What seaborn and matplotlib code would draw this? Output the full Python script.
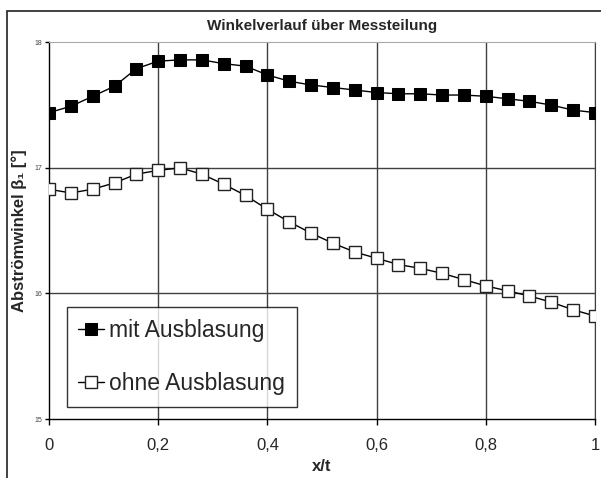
import numpy as np
import pandas as pd
import matplotlib
matplotlib.use("Agg")
import matplotlib.pyplot as plt
import matplotlib.patches as patches
import seaborn as sns

# x/t positions (26 measurement points)
x_t = [0.00, 0.04, 0.08, 0.12, 0.16, 0.20, 0.24, 0.28, 0.32, 0.36, 0.40, 0.44, 0.48,
       0.52, 0.56, 0.60, 0.64, 0.68, 0.72, 0.76, 0.80, 0.84, 0.88, 0.92, 0.96, 1.00]

mit_ausblasung = [17.44, 17.49, 17.57, 17.65, 17.79, 17.85, 17.86, 17.86, 17.83, 17.81,
                  17.74, 17.69, 17.66, 17.64, 17.62, 17.60, 17.59, 17.59, 17.58, 17.58,
                  17.57, 17.55, 17.53, 17.50, 17.46, 17.44]

ohne_ausblasung = [16.83, 16.80, 16.83, 16.88, 16.95, 16.98, 17.00, 16.95, 16.87, 16.78,
                   16.67, 16.57, 16.48, 16.40, 16.33, 16.28, 16.23, 16.20, 16.16, 16.11,
                   16.06, 16.02, 15.98, 15.93, 15.87, 15.82]

x_ticks = [0, 0.2, 0.4, 0.6, 0.8, 1.0]
x_tick_labels = ["0", "0,2", "0,4", "0,6", "0,8", "1"]
y_ticks = [15, 16, 17, 18]

df = pd.DataFrame({"x": x_t, "mit": mit_ausblasung, "ohne": ohne_ausblasung})

sns.set_style("white")
plt.rcParams["font.family"] = ["Liberation Sans", "DejaVu Sans"]

fig = plt.figure(figsize=(6.01, 4.78), dpi=100)
ax = fig.add_axes([49 / 601, 1 - 419 / 478, 546 / 601, (419 - 42.3) / 478])

grid_col = "#404040"
for v in x_ticks[1:]:
    ax.axvline(v, color=grid_col, lw=1, zorder=0)
for v in y_ticks[1:3]:
    ax.axhline(v, color=grid_col, lw=1, zorder=0)

sns.lineplot(data=df, x="x", y="mit", ax=ax, color="black", lw=1,
             marker="s", markersize=9, markerfacecolor="black",
             markeredgecolor="black", label="mit Ausblasung", zorder=3)
sns.lineplot(data=df, x="x", y="ohne", ax=ax, color="black", lw=1,
             marker="s", markersize=9, markerfacecolor="white",
             markeredgecolor="#222222", markeredgewidth=1, label="ohne Ausblasung", zorder=3)

ax.set_xlim(0, 1)
ax.set_ylim(15, 18)
ax.set_xticks(x_ticks)
ax.set_xticklabels(x_tick_labels, fontsize=12)
ax.set_yticks(y_ticks)
ax.set_yticklabels([str(v) for v in y_ticks], fontsize=5, color="#444444")
ax.tick_params(axis="x", length=4, width=1, color="black", pad=10, bottom=True)
ax.tick_params(axis="y", length=3, width=1, color="black", pad=2, left=True)

for side in ["left", "bottom"]:
    ax.spines[side].set_color("black")
    ax.spines[side].set_linewidth(1)
ax.spines["top"].set_color("#aaaaaa")
ax.spines["right"].set_color(grid_col)

ax.set_xlabel("x/t", fontsize=12, fontweight="bold", labelpad=4)
ax.set_ylabel("Abströmwinkel β₁ [°]", fontsize=12, fontweight="bold", labelpad=5)
ax.set_title("Winkelverlauf über Messteilung", fontsize=11, fontweight="bold", pad=9)

leg = ax.legend(loc="lower left", bbox_to_anchor=(0.033, 0.032), borderaxespad=0,
                fontsize=16.5, frameon=True, fancybox=False, edgecolor="black",
                handlelength=1.1, handletextpad=0.25, labelspacing=1.35,
                borderpad=0.5)
leg.get_frame().set_linewidth(1)

fig.patches.append(patches.Rectangle((7 / 601, -0.1), 1.2, 1.1 - 10.7 / 478,
                                     transform=fig.transFigure, fill=False,
                                     edgecolor="#333333", lw=1.3))

fig.savefig("out.png", dpi=100)
